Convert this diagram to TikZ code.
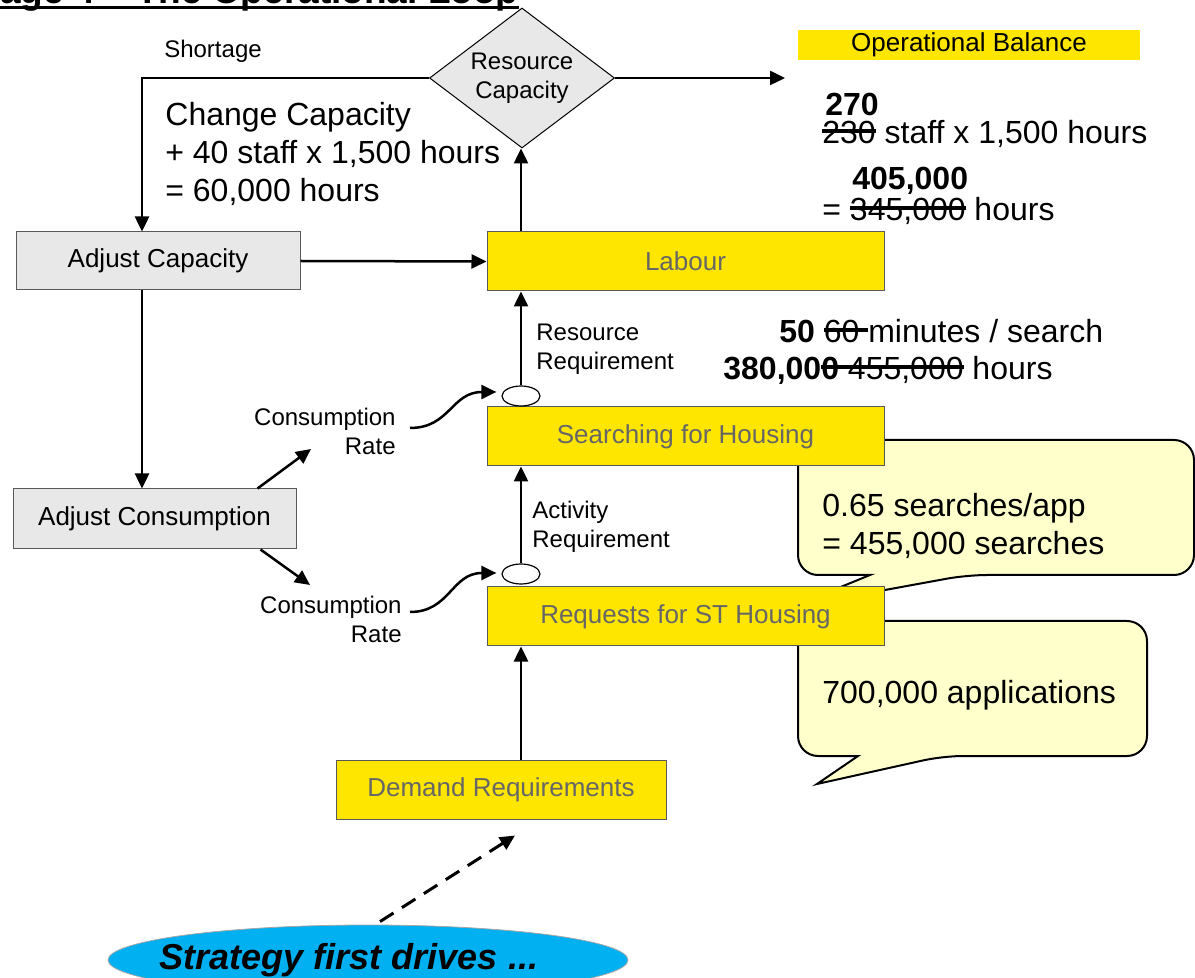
\documentclass[tikz,border=0pt]{standalone}
\usepackage{fontspec}
\setmainfont{Liberation Sans}
\usetikzlibrary{arrows.meta,positioning,shapes.geometric,calc}

\definecolor{boxyellow}{HTML}{FFE600}
\definecolor{boxgrey}{HTML}{E8E8E8}
\definecolor{edgegrey}{HTML}{595959}
\definecolor{labelgrey}{HTML}{666666}
\definecolor{notefill}{HTML}{FFFFCC}
\definecolor{skyblue}{HTML}{00B0F0}

% struck-out figure
\newcommand{\struck}[1]{\setbox0\hbox{#1}\rlap{\rule[0.33em]{\wd0}{0.11em}}\box0\relax}

\begin{document}
\begin{tikzpicture}[
    x=0.5pt, y=-0.5pt,
    arr/.style={-{Triangle[length=7.5pt,width=7pt]}, line width=1.25pt},
    dasharr/.style={arr, dash pattern=on 8pt off 5pt, line width=1.5pt},
    ybox/.style={draw=edgegrey, fill=boxyellow, text=labelgrey, line width=0.5pt,
    minimum width=198.5pt, minimum height=29.5pt, font=\fontsize{13}{15.6}\selectfont},
    gbox/.style={draw=edgegrey, fill=boxgrey, line width=0.5pt, minimum height=29pt,
    font=\fontsize{13}{15.6}\selectfont},
    port/.style={draw, fill=white, ellipse, minimum width=19pt, minimum height=10pt,
    inner sep=0pt, line width=0.6pt},
    lbl/.style={font=\fontsize{12}{14.5}\selectfont, inner sep=0pt, align=left},
    big/.style={font=\fontsize{16}{19}\selectfont, inner sep=0pt, align=left},
    bigb/.style={big, font=\fontsize{16}{19}\selectfont\bfseries},
    bubble/.style={draw, fill=notefill, line width=1pt}
]
\useasboundingbox (0,0) rectangle (1195,978);
\clip (0,0) rectangle (1195,978);

% title, cut off at the top
\node[font=\fontsize{18.5}{22}\selectfont\bfseries, anchor=base west, inner sep=0pt] (title) at (-37,4) {Stage 4 – The Operational Loop};
\draw[line width=1.4pt] ([yshift=-1.75pt]title.base west) -- ([yshift=-1.75pt]title.base east);

% call-outs (behind the boxes)
\path[bubble] (850,440) [rounded corners=10pt] -| (1194,575) -- (967,575) [sharp corners] -- (792,607) -- (870,575) -- (830,575) [rounded corners=10pt] -| (798,440) -- cycle;
\path[bubble] (900,621) [rounded corners=10pt] -| (1147,756) -- (943,756) [sharp corners] -- (817,784) -- (858,756) -- (830,756) [rounded corners=10pt] -| (798,621) -- cycle;
\node[big, anchor=west] (ratio) at (822,526) {0.65 searches/app\\= 455,000 searches};
\node[big, anchor=west] (apps) at (822,695) {700,000 applications};

% main chain
\node[ybox] (labour) at (685.5,261.5) {Labour};
\node[ybox, below=57.5pt of labour] (search) {Searching for Housing};
\node[ybox, below=60pt of search] (reqs) {Requests for ST Housing};
\node[ybox, minimum width=165pt, below=56.5pt of reqs, xshift=-92.25pt] (demand) {Demand Requirements};
\node[draw, diamond, aspect=1.32, fill=boxgrey, line width=0.5pt, minimum width=92.5pt,
    minimum height=70pt, lbl, align=center] (rescap) at (522,78) {Resource\\Capacity};
\node[fill=boxyellow, minimum width=171pt, minimum height=15pt, inner sep=0pt,
    font=\fontsize{13}{15.6}\selectfont] (balance) at (969,45) {Operational Balance};
\node[port] (port1) at (521,396) {};
\node[port] (port2) at (521,574) {};

% control side
\node[gbox, minimum width=142pt] (adjcap) at (158,261) {Adjust Capacity};
\node[gbox, minimum width=141.5pt, minimum height=30pt, below=99pt of adjcap, xshift=-1.75pt] (adjcons) {Adjust Consumption};

% labels
\node[lbl] (shortage) at (213,51) {Shortage};
\node[big, anchor=west] (chgcap) at (165,154) {Change Capacity\\+ 40 staff x 1,500 hours\\= 60,000 hours};
\node[lbl, anchor=west] (resreq) at (536,349.5) {Resource\\Requirement};
\node[lbl, anchor=west] (actreq) at (532,526.5) {Activity\\Requirement};
\node[lbl, align=right, anchor=east] (rate1) at (396,431) {Consumption\\Rate};
\node[lbl, align=right, anchor=east] (rate2) at (402,619) {Consumption\\Rate};

% revised figures
\node[bigb, anchor=west] (staffnew) at (825,104) {270};
\node[big, anchor=west] (staff) at (822,134) {\struck{230} staff x 1,500 hours};
\node[bigb, anchor=west] (hoursnew) at (852,181) {405,000};
\node[big, anchor=west] (hours) at (822,211) {= \struck{345,000} hours};
\node[big, anchor=west] (minutes) at (779,331) {\textbf{50} \struck{60\ }minutes / search};
\node[big, anchor=west] (searchhrs) at (723,370) {\textbf{380,00}\struck{\textbf{0}\ 455,000} hours};

\node[ellipse, draw=gray!70, fill=skyblue, minimum width=260pt, minimum height=35pt,
    inner xsep=-13pt, inner ysep=0pt,
    font=\fontsize{18}{21}\selectfont\bfseries\itshape] (strategy) at (368,960) {Strategy first drives ...\hspace*{19pt}};

\coordinate (balend) at (785,78);
\coordinate (rate1tip) at (311,449);
\coordinate (rate2tip) at (310,585);

% connectors
\draw[arr] (rescap.west) -| ([xshift=-8pt]adjcap.north);
\draw[arr] (rescap.east) -- (balend);
\draw[arr] (adjcap.east) -- (labour.west);
\draw[arr] ([xshift=-8pt]adjcap.south) -- ([xshift=-8pt]adjcap.south |- adjcons.north);
\draw[arr] (port1 |- labour.north) -- (port1 |- rescap.south);
\draw[arr] (port1.north) -- (port1 |- labour.south);
\draw[arr] (port2.north) -- (port2 |- search.south);
\draw[arr] (port2 |- demand.north) -- (port2 |- reqs.south);
\draw[arr] ([xshift=7pt,yshift=1.5pt]rate1.east) .. controls +(40,0) and +(-45,0) .. ([xshift=-2.5pt,yshift=2pt]port1.west);
\draw[arr] ([xshift=4pt,yshift=3.5pt]rate2.east) .. controls +(40,0) and +(-45,0) .. ([xshift=-2.5pt,yshift=0.5pt]port2.west);
\draw[arr] ([xshift=-19.5pt]adjcons.north east) -- (rate1tip);
\draw[arr] ([xshift=-18pt]adjcons.south east) -- (rate2tip);
\draw[dasharr] ([xshift=6pt,yshift=1.5pt]strategy.north) -- ([xshift=7pt,yshift=-8pt]demand.south);
\end{tikzpicture}
\end{document}
